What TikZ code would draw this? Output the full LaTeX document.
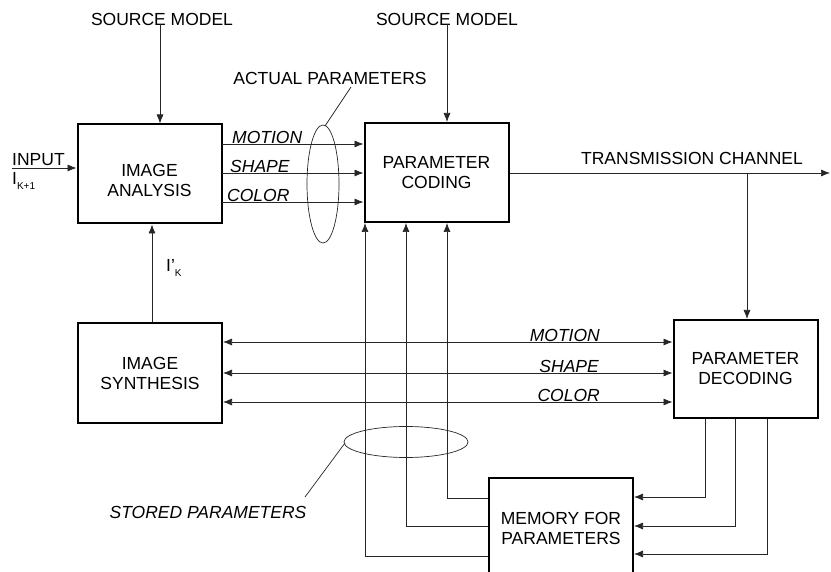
\documentclass[tikz,border=0pt]{standalone}
\usepackage{fontspec}
\setmainfont{Liberation Sans}
\usetikzlibrary{arrows.meta,calc,shapes.geometric}
\begin{document}
\begin{tikzpicture}[x=1pt,y=-1pt,
  every node/.style={font=\fontsize{17.5}{20}\selectfont},
  blk/.style={draw,line width=2pt,minimum width=144pt,minimum height=99pt,align=center,inner sep=0pt},
  conn/.style={line width=0.7pt,draw=black!85},
  arr/.style={conn,-{Latex[length=9pt,width=7pt]}},
  barr/.style={conn,{Latex[length=9pt,width=7pt]}-{Latex[length=9pt,width=7pt]}},
  lbl/.style={inner sep=1pt,font=\fontsize{17.5}{20}\selectfont\itshape},
  txt/.style={inner sep=0pt}]
\useasboundingbox (0,0) rectangle (831,572);
\clip (0,0) rectangle (831,572);
% blocks
\node[blk] (ana) at (149.5,174) {};
\node[txt,align=center] (anaT) at (149.5,180) {IMAGE\\ANALYSIS};
\node[blk,minimum height=100pt] (syn) at (150,373) {IMAGE\\SYNTHESIS};
\node[blk] (cod) at (436.5,172.5) {PARAMETER\\CODING};
\node[blk,minimum height=98pt] (dec) at (745.5,369) {PARAMETER\\DECODING};
\node[blk,minimum height=100pt] (mem) at (561,528) {MEMORY FOR\\PARAMETERS};
% source models
\node[txt] (sm1) at (162,19) {SOURCE MODEL};
\node[txt] (sm2) at (447,19) {SOURCE MODEL};
\coordinate (sm1b) at (160,24);
\coordinate (sm2b) at (447,24);
\draw[arr] (sm1b) -- (sm1b |- ana.north);
\draw[arr] (sm2b) -- (sm2b |- cod.north);
% input
\node[txt,anchor=south west] (inp) at (12,166) {INPUT};
\node[txt,anchor=north west] (ik1) at (12,172) {I\raisebox{-5pt}{\fontsize{10}{10}\selectfont K+1}};
\coordinate (inS) at (12,168);
\draw[arr] (inS) -- (inS -| ana.west);
% I'_K
\coordinate (ikx) at (152,0);
\draw[arr] (ikx |- syn.north) -- (ikx |- ana.south);
\node[txt,anchor=west] (ik) at (166,268) {I'\raisebox{-5pt}{\fontsize{10}{10}\selectfont K}};
% analysis -> coding
\foreach \yy/\nm/\xs in {144/MOTION/231,173/SHAPE/229,202/COLOR/226}{
  \coordinate (a\nm) at (222,\yy);
  \draw[arr] (a\nm) -- (a\nm -| cod.west);
  \node[lbl,anchor=south west] at (\xs,\yy+1) {\nm};
}
% actual parameters
\node[txt] (actl) at (330,78) {ACTUAL PARAMETERS};
\node[draw,conn,ellipse,minimum width=32pt,minimum height=118pt,inner sep=0pt] (ael) at (323,184) {};
\coordinate (aeltop) at (325,126);
\coordinate (actp) at (351,87);
\draw[conn] (aeltop) -- (actp);
% transmission channel
\node[txt] (tc) at (692,158) {TRANSMISSION CHANNEL};
\coordinate (tcend) at (830,173);
\coordinate (tcbr) at (747,173);
\draw[arr] (cod.east |- tcend) -- (tcend);
\draw[arr] (tcbr) -- (tcbr |- dec.north);
% decoding <-> synthesis
\foreach \yy/\nm/\xe in {342/MOTION/601,373/SHAPE/600,402/COLOR/601}{
  \coordinate (d\nm) at (450,\yy);
  \draw[barr] (d\nm -| syn.east) -- (d\nm -| dec.west);
  \node[lbl,anchor=south east] at (\xe,\yy+1) {\nm};
}
% decoding -> memory
\foreach \xx/\yy in {705/497,735/526,767/554}{
  \coordinate (dm) at (\xx,\yy);
  \draw[arr] (dm |- dec.south) -- (dm) -- (dm -| mem.east);
}
% memory -> coding
\foreach \xx/\yy in {447/498,406/526,365/556}{
  \coordinate (mc) at (\xx,\yy);
  \draw[arr] (mc -| mem.west) -- (mc) -- (mc |- cod.south);
}
% stored parameters
\node[draw,conn,ellipse,minimum width=124pt,minimum height=31pt,inner sep=0pt] (sel) at (406,442) {};
\coordinate (selp) at (345,443);
\coordinate (stp) at (305,497);
\draw[conn] (selp) -- (stp);
\node[lbl,inner sep=0pt] (stl) at (208,512) {STORED PARAMETERS};
\end{tikzpicture}
\end{document}
